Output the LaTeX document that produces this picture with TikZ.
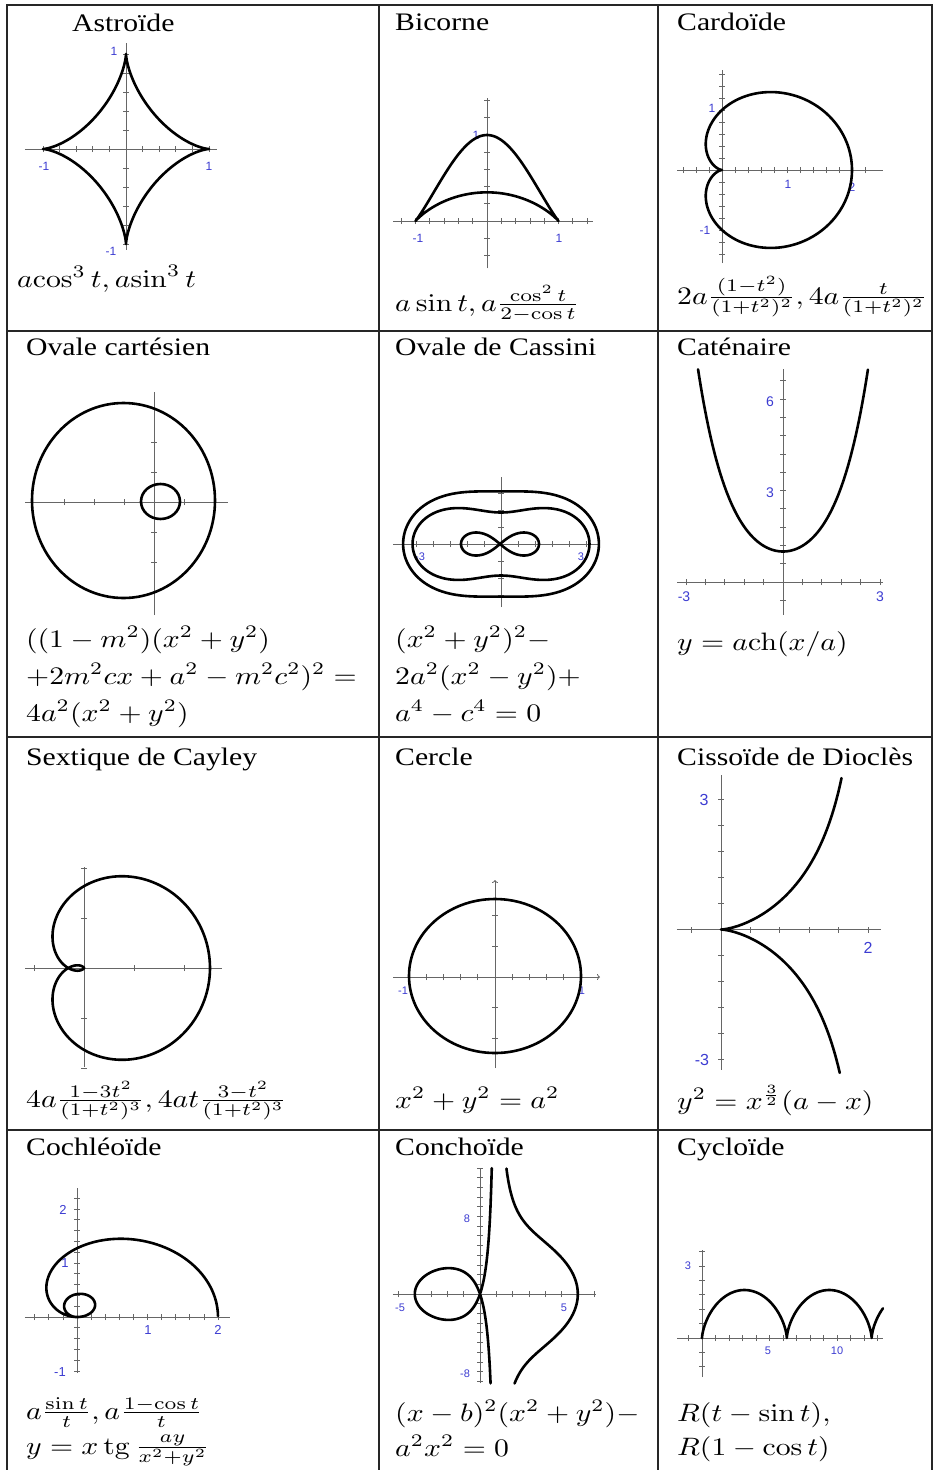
\documentclass[tikz,border=0pt]{standalone}
\usepackage[no-math]{fontspec}
\setmainfont{Liberation Serif}
\newfontfamily\labfont{Liberation Sans}
\usepackage{graphicx}
\usetikzlibrary{arrows.meta}
\definecolor{lblue}{RGB}{60,60,210}
\newcommand\TT[1]{\scalebox{2.97}[2.52]{#1}}
\newcommand\xticks[1]{\foreach \k in {#1} \draw[ax] (\k,0) ++(0pt,-3pt) -- ++(0pt,6pt);}
\newcommand\yticks[1]{\foreach \k in {#1} \draw[ax] (0,\k) ++(-3pt,0pt) -- ++(6pt,0pt);}
\begin{document}
\begin{tikzpicture}[x=1pt,y=-1pt,
  ax/.style={line width=0.8pt, black!60},
  crv/.style={line width=2.6pt, black, line join=round, line cap=round},
  grid/.style={line width=1.3pt, black!85},
  ttl/.style={anchor=base west, inner sep=0pt},
  lab/.style={text=lblue, inner sep=0pt, font=\labfont\fontsize{#1}{#1}\selectfont},
  lab/.default=12]
\useasboundingbox[fill=white] (0,0) rectangle (935,1470);

% ---------- table ----------
\draw[grid] (7,1470) -- (7,5) -- (932,5) -- (932,1470);
\draw[grid] (379,5) -- (379,1470);
\draw[grid] (658,5) -- (658,1470);
\draw[grid] (7,331) -- (932,331);
\draw[grid] (7,737) -- (932,737);
\draw[grid] (7,1130) -- (932,1130);

% ---------- 1 Astroide ----------
\node[ttl] (t1) at (72,31) {\TT{Astroïde}};
\node[ttl] (f1) at (17,287) {\TT{$a\!\cos^3 t, a\!\sin^3 t$}};
\node[lab=12] (l1a) at (114,51) {1};
\node[lab=12] (l1b) at (111,251) {-1};
\node[lab=12] (l1c) at (44,166) {-1};
\node[lab=12] (l1d) at (209,166) {1};
\begin{scope}[shift={(126,149)}, x=83pt, y=95pt]
  \draw[ax] (-1.217,0) -- (1.096,0);
  \draw[ax] (0,-1.063) -- (0,1.116);
  \xticks{-1,-0.8,...,1}
  \yticks{-1,-0.8,...,1}
  \draw[crv] plot[domain=0:360, samples=361, variable=\t]
    ({cos(\t)*cos(\t)*cos(\t)},{sin(\t)*sin(\t)*sin(\t)});
\end{scope}

% ---------- 2 Bicorne ----------
\node[ttl] (t2) at (395,30) {\TT{Bicorne}};
\node[ttl] (f2) at (395,311) {\TT{$a\sin t, a\frac{\cos^2 t}{2-\cos t}$}};
\node[lab=12] (l2a) at (476,135) {1};
\node[lab=12] (l2b) at (418,238) {-1};
\node[lab=12] (l2c) at (559,238) {1};
\begin{scope}[shift={(487,221)}, x=71.5pt, y=86pt]
  \draw[ax] (-1.31,0) -- (1.48,0);
  \draw[ax] (0,-0.55) -- (0,1.43);
  \xticks{-1.2,-1,...,1.4}
  \yticks{-0.4,-0.2,...,1.4}
  \draw[crv] plot[domain=0:360, samples=300, variable=\t]
    ({sin(\t)},{cos(\t)*cos(\t)/(2-cos(\t))});
\end{scope}

% ---------- 3 Cardioide ----------
\node[ttl] (t3) at (677,30) {\TT{Cardoïde}};
\node[ttl] (f3) at (677,304) {\TT{$2a\frac{(1-t^2)}{(1+t^2)^2}, 4a\frac{t}{(1+t^2)^2}$}};
\node[lab=12] (l3a) at (712,108) {1};
\node[lab=12] (l3b) at (705,230) {-1};
\node[lab=12] (l3c) at (788,184) {1};
\node[lab=12] (l3d) at (852,187) {2};
\begin{scope}[shift={(722,170)}, x=65pt, y=60pt]
  \draw[ax] (-0.69,0) -- (2.48,0);
  \draw[ax] (0,-1.55) -- (0,1.67);
  \xticks{-0.6,-0.4,...,2.4}
  \yticks{-1.4,-1.2,...,1.6}
  \draw[crv] plot[domain=0:360, samples=300, variable=\t]
    ({(1+cos(\t))*cos(\t)},{(1+cos(\t))*sin(\t)});
\end{scope}

% ---------- 4 Ovale cartesien ----------
\node[ttl] (t4) at (26,355) {\TT{Ovale cartésien}};
\node[ttl] (f4a) at (26,647) {\TT{$((1-m^2)(x^2+y^2)$}};
\node[ttl] (f4b) at (26,684) {\TT{$+2m^2cx+a^2-m^2c^2)^2=$}};
\node[ttl] (f4c) at (26,721) {\TT{$4a^2(x^2+y^2)$}};
\begin{scope}[shift={(154,502)}, x=30pt, y=30pt]
  \draw[ax] (-4.3,0) -- (2.47,0);
  \draw[ax] (0,-3.77) -- (0,3.67);
  \xticks{-3,-2,-1,1,2}
  \yticks{-2,-1,1,2}
\end{scope}
\draw[crv] (123.5,500.5) ellipse [x radius=91.5pt, y radius=97.5pt];
\draw[crv] (160.5,501.5) ellipse [x radius=19.5pt, y radius=17.5pt];

% ---------- 5 Cassini ----------
\node[ttl] (t5) at (395,355) {\TT{Ovale de Cassini}};
\node[ttl] (f5a) at (395,647) {\TT{$(x^2+y^2)^2-$}};
\node[ttl] (f5b) at (395,684) {\TT{$2a^2(x^2-y^2)+$}};
\node[ttl] (f5c) at (395,721) {\TT{$a^4-c^4=0$}};
\node[lab=11] (l5a) at (420,557) {-3};
\node[lab=11] (l5b) at (581,557) {3};
\begin{scope}[shift={(501,544)}, x=1pt, y=1pt]
  \draw[ax] (-108,0) -- (99,0);
  \draw[ax] (0,-63) -- (0,67);
  \xticks{-85,-68,-51,-34,-17,17,34,51,68,85}
  \yticks{-51,-34,-17,17,34,51}
  \draw[crv] plot[domain=0:360, samples=300, variable=\t]
    ({57*sqrt(cos(2*\t)+sqrt(3.8025-sin(2*\t)*sin(2*\t)))*cos(\t)},
     {54*sqrt(cos(2*\t)+sqrt(3.8025-sin(2*\t)*sin(2*\t)))*sin(\t)});
  \draw[crv] plot[domain=0:360, samples=300, variable=\t]
    ({57.7*sqrt(cos(2*\t)+sqrt(1.825-sin(2*\t)*sin(2*\t)))*cos(\t)},
     {53.2*sqrt(cos(2*\t)+sqrt(1.825-sin(2*\t)*sin(2*\t)))*sin(\t)});
  \draw[crv] plot[domain=0:360, samples=200, variable=\t]
    ({-1+39*cos(\t)/(1+sin(\t)*sin(\t))},{32.5*sin(\t)*cos(\t)/(1+sin(\t)*sin(\t))});
\end{scope}

% ---------- 6 Catenaire ----------
\node[ttl] (t6) at (677,355) {\TT{Caténaire}};
\node[ttl] (f6) at (677,650) {\TT{$y=a\mathrm{ch}(x/a)$}};
\node[lab=14] (l6a) at (770,402) {6};
\node[lab=14] (l6b) at (770,493) {3};
\node[lab=14] (l6c) at (684,597) {-3};
\node[lab=14] (l6d) at (880,597) {3};
\begin{scope}[shift={(783,582)}, x=32.3pt, y=30.5pt]
  \draw[ax] (-3.28,0) -- (3.1,0);
  \draw[ax] (0,-1.08) -- (0,7.0);
  \xticks{-3,-2.4,-1.8,-1.2,-0.6,0.6,1.2,1.8,2.4,3}
  \yticks{-0.6,0.6,1.2,...,6.6}
  \draw[crv] plot[domain=-2.63:2.63, samples=120, variable=\t] (\t,{cosh(\t)});
\end{scope}

% ---------- 7 Sextique de Cayley ----------
\node[ttl] (t7) at (26,765) {\TT{Sextique de Cayley}};
\node[ttl] (f7) at (26,1107) {\TT{$4a\frac{1-3t^2}{(1+t^2)^3}, 4at\frac{3-t^2}{(1+t^2)^3}$}};
\begin{scope}[shift={(84,968)}, x=31.5pt, y=31.5pt]
  \draw[ax] (-1.873,0) -- (4.38,0);
  \draw[ax] (0,-3.14) -- (0,3.21);
  \xticks{-1.587,1.587,3.175}
  \yticks{-3.175,-1.587,1.587,3.175}
  \draw[crv] plot[domain=0:180, samples=500, variable=\t]
    ({4*cos(\t)*cos(\t)*cos(\t)*cos(3*\t)},{4*cos(\t)*cos(\t)*cos(\t)*sin(3*\t)});
\end{scope}

% ---------- 8 Cercle ----------
\node[ttl] (t8) at (395,765) {\TT{Cercle}};
\node[ttl] (f8) at (395,1108) {\TT{$x^2+y^2=a^2$}};
\node[lab=11] (l8a) at (403,991) {-1};
\node[lab=11] (l8b) at (582,991) {1};
\begin{scope}[shift={(495,977)}, x=1pt, y=1pt]
  \draw[ax,-{To[length=3pt,width=6pt]}] (-102,0) -- (105,0);
  \draw[ax,-{To[length=3pt,width=6pt]}] (0,-91) -- (0,97);
  \xticks{-68.8,-51.6,-34.4,-17.2,17.2,34.4,51.6,68.8}
  \yticks{-61.6,-30.8,30.8,61.6}
\end{scope}
\draw[crv] (495,976) ellipse [x radius=86pt, y radius=77pt];

% ---------- 9 Cissoide ----------
\node[ttl] (t9) at (677,765) {\TT{Cissoïde de Dioclès}};
\node[ttl] (f9) at (677,1109) {\TT{$y^2=x^{\frac{3}{2}}(a-x)$}};
\node[lab=16] (l9a) at (704,800) {3};
\node[lab=16] (l9b) at (702,1060) {-3};
\node[lab=16] (l9c) at (868,948) {2};
\begin{scope}[shift={(721,929.5)}, x=73.5pt, y=43.3pt]
  \draw[ax] (-0.6,0) -- (2.18,0);
  \draw[ax] (0,-3.24) -- (0,3.56);
  \xticks{-0.4,0.4,0.8,1.2,1.6,2}
  \yticks{-3,-2.4,-1.8,-1.2,-0.6,0.6,1.2,1.8,2.4,3}
  \draw[crv] plot[domain=-2.05:2.135, samples=240, variable=\t]
    ({2*\t*\t/(1+\t*\t)},{2*\t*\t*\t/(1+\t*\t)});
\end{scope}

% ---------- 10 Cochleoide ----------
\node[ttl] (t10) at (26,1155) {\TT{Cochléoïde}};
\node[ttl] (f10a) at (26,1419) {\TT{$a\frac{\sin t}{t}, a\frac{1-\cos t}{t}$}};
\node[ttl] (f10b) at (26,1454) {\TT{$y=x\,\mathrm{tg}\,\frac{ay}{x^2+y^2}$}};
\node[lab=13] (l10a) at (63,1210) {2};
\node[lab=13] (l10b) at (65,1263) {1};
\node[lab=13] (l10c) at (60,1372) {-1};
\node[lab=13] (l10d) at (148,1330) {1};
\node[lab=13] (l10e) at (218,1330) {2};
\begin{scope}[shift={(77,1317)}, x=70.5pt, y=54pt]
  \draw[ax] (-0.74,0) -- (2.17,0);
  \draw[ax] (0,-1.04) -- (0,2.39);
  \xticks{-0.6,-0.4,-0.2,0.2,0.4,...,2}
  \yticks{-1,-0.8,-0.6,-0.4,-0.2,0.2,0.4,...,2.2}
  \draw[crv] plot[domain=0.005:12.566, samples=500, variable=\t]
    ({2*sin(\t r)/\t},{2*(1-cos(\t r))/\t});
\end{scope}

% ---------- 11 Conchoide ----------
\node[ttl] (t11) at (395,1155) {\TT{Conchoïde}};
\node[ttl] (f11a) at (395,1421) {\TT{$(x-b)^2(x^2+y^2)-$}};
\node[ttl] (f11b) at (395,1456) {\TT{$a^2x^2=0$}};
\node[lab=11] (l11a) at (467,1219) {8};
\node[lab=11] (l11b) at (465,1374) {-8};
\node[lab=11] (l11c) at (400,1308) {-5};
\node[lab=11] (l11d) at (564,1308) {5};
\begin{scope}[shift={(480,1294)}, x=16.3pt, y=9.7pt]
  \draw[ax] (-5.34,0) -- (7.1,0);
  \draw[ax] (0,-9.2) -- (0,13);
  \xticks{-5,-4,-3,-2,-1,1,2,...,7}
  \yticks{-9,-8,...,-1,1,2,...,13}
  \draw[crv] plot[domain=-85.97:86.82, samples=400, variable=\t]
    ({1-5*cos(\t)},{tan(\t)-5*sin(\t)});
  \draw[crv] plot[domain=-77.06:82.85, samples=300, variable=\t]
    ({1+5*cos(\t)},{tan(\t)+5*sin(\t)});
\end{scope}

% ---------- 12 Cycloide ----------
\node[ttl] (t12) at (677,1155) {\TT{Cycloïde}};
\node[ttl] (f12a) at (677,1421) {\TT{$R(t-\sin t),$}};
\node[ttl] (f12b) at (677,1455) {\TT{$R(1-\cos t)$}};
\node[lab=11] (l12a) at (688,1266) {3};
\node[lab=11] (l12b) at (768,1351) {5};
\node[lab=11] (l12c) at (837,1351) {10};
\begin{scope}[shift={(702,1338)}, x=13.5pt, y=24pt]
  \draw[ax] (-1.85,0) -- (13.4,0);
  \draw[ax] (0,-1.63) -- (0,3.67);
  \xticks{-1,1,2,...,13}
  \yticks{-1.2,-0.6,0.6,1.2,...,3.6}
  \draw[crv] plot[domain=0:14.38, samples=300, variable=\t]
    ({\t-sin(\t r)},{1-cos(\t r)});
\end{scope}
\end{tikzpicture}
\end{document}
